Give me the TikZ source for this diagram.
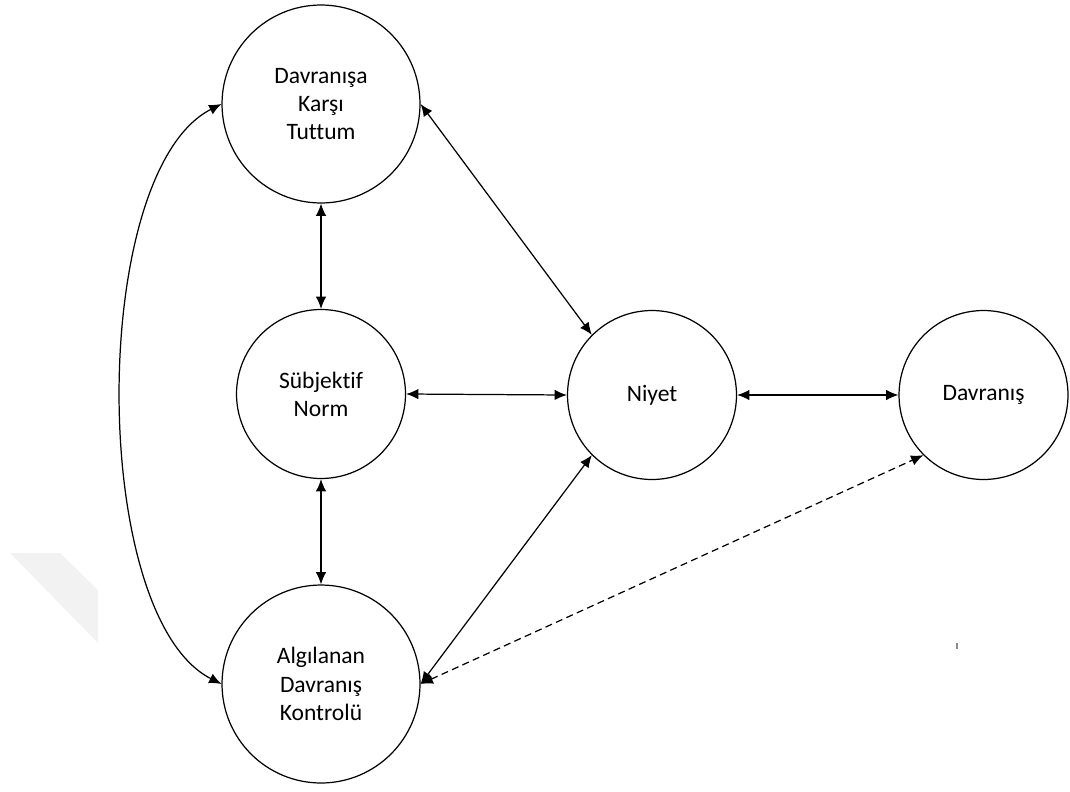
\documentclass[tikz,border=0pt]{standalone}
\usepackage{fontspec}
\setmainfont{Carlito}[Ligatures=NoCommon]
\usetikzlibrary{arrows.meta}

\begin{document}
\begin{tikzpicture}[x=0.02cm, y=-0.02cm,
    bigstate/.style={draw, circle, line width=0.7pt, minimum size=3.96cm, align=center, inner sep=0pt},
    smallstate/.style={draw, circle, line width=0.7pt, minimum size=3.38cm, align=center, inner sep=0pt},
    link/.style={{Latex[length=7pt,width=6pt]}-{Latex[length=7pt,width=6pt]}, line width=0.7pt},
    font=\fontsize{13.4}{16}\selectfont]

    \useasboundingbox (0, 0) rectangle (1070, 791);

    % Watermark
    \fill [black!5] (10, 553) -- (60, 553) -- (98, 590) -- (98, 643) -- cycle;
    \draw [black!45, line width=0.6pt] (957, 643) -- (957, 649);

    % Circles
    \node [bigstate] (tutum) at (321, 104) {Davranışa\\Karşı\\Tuttum};
    \node [smallstate] (norm) at (321, 394) {Sübjektif\\Norm};
    \node [bigstate] (kontrol) at (321, 684) {Algılanan\\Davranış\\Kontrolü};
    \node [smallstate] (niyet) at (652, 395) {Niyet};
    \node [smallstate] (davranis) at (983.5, 395) {Davranış};

    % Arrows
    \draw [link] (tutum.south) -- (norm.north);
    \draw [link] (norm.south) -- (kontrol.north);
    \draw [link] (norm.east) -- (niyet.west);
    \draw [link] (niyet.east) -- (davranis.west);
    \draw [link] (tutum.east) -- (niyet.north west);
    \draw [link] (kontrol.east) -- (niyet.south west);
    \draw [link, dashed, dash pattern=on 4pt off 2.5pt] (kontrol.east) -- (davranis.south west);

    % Curved arrow
    \draw [link] (tutum.west) to [out=207, in=153, looseness=0.66] (kontrol.west);

\end{tikzpicture}
\end{document}
